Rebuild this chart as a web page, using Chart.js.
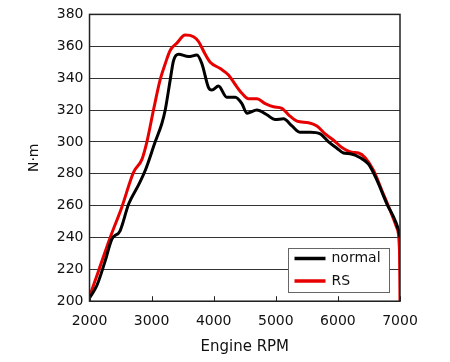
<!DOCTYPE html>
<html>
<head>
<meta charset="utf-8">
<script src="https://cdn.jsdelivr.net/npm/chart.js@4"></script>
<style>
  html, body { margin: 0; padding: 0; background: #fff; }
  #wrap { width: 450px; height: 362px; }
</style>
</head>
<body>
<div id="wrap"><canvas id="torque"></canvas></div>
<script>
// values
const rpmNormal = [2000, 2120, 2250, 2360, 2490, 2630, 2790, 2897, 3058, 3165, 3219, 3300, 3353, 3434, 3594, 3730, 3810, 3917, 3970, 4077, 4210, 4346, 4454, 4534, 4695, 4856, 4990, 5124, 5260, 5393, 5554, 5715, 5850, 5984, 6090, 6198, 6360, 6493, 6628, 6790, 6923, 6992, 7000];
const torqueNormal = [202, 210, 225, 239, 244, 261, 273, 282, 300, 311.5, 320, 339, 351, 355, 353.5, 354.5, 349, 334, 332.5, 335, 328, 328, 324, 318, 320, 317, 314, 314.5, 310, 306, 306, 305, 300, 296, 293, 292.5, 290, 286, 276, 261, 250.5, 242, 240];
const rpmRS = [2000, 2145, 2333, 2520, 2710, 2844, 2924, 3030, 3138, 3219, 3300, 3407, 3540, 3675, 3755, 3863, 3944, 4105, 4238, 4346, 4454, 4560, 4695, 4830, 4963, 5098, 5205, 5340, 5527, 5662, 5795, 5930, 6064, 6225, 6332, 6440, 6574, 6708, 6842, 6950, 6992, 7000];
const torqueRS = [203, 219, 240, 259, 281, 289, 300, 320, 339, 349, 357.5, 362, 367, 366, 363, 355, 350, 346, 342, 336, 330.5, 327, 327, 324, 322, 321, 317, 313, 312, 310, 305, 301, 296.5, 293.5, 293, 290, 282, 269.5, 257, 246, 231.5, 200];
const seriesNames = ["normal", "RS"];
const xTicks = [2000, 3000, 4000, 5000, 6000, 7000];

const FONT = "'DejaVu Sans', Verdana, sans-serif";

const toPoints = (xs, ys) => xs.map((x, i) => ({ x: x, y: ys[i] }));

// frame, inner x ticks and the boxed legend inside the plot
const framePlugin = {
  id: "frame",
  afterDatasetsDraw(chart) {
    const { ctx, chartArea: a } = chart;
    const xs = chart.scales.x;
    ctx.save();
    ctx.strokeStyle = "#222";
    ctx.lineWidth = 1;
    ctx.beginPath();
    xTicks.forEach(v => {
      const px = Math.round(xs.getPixelForValue(v)) + 0.5;
      ctx.moveTo(px, a.bottom);
      ctx.lineTo(px, a.bottom - 5);
    });
    ctx.stroke();
    ctx.lineWidth = 1.5;
    ctx.strokeRect(a.left, a.top, a.right - a.left, a.bottom - a.top);

    // legend
    const bx = 288.5, by = 248.5, bw = 101, bh = 44;
    ctx.fillStyle = "#fff";
    ctx.fillRect(bx, by, bw, bh);
    ctx.strokeStyle = "#666";
    ctx.lineWidth = 1;
    ctx.strokeRect(bx, by, bw, bh);
    ctx.font = "14px " + FONT;
    ctx.textBaseline = "middle";
    chart.data.datasets.forEach((ds, i) => {
      const ly = by + 10 + i * 22.5;
      ctx.strokeStyle = ds.borderColor;
      ctx.lineWidth = 3.5;
      ctx.beginPath();
      ctx.moveTo(bx + 6, ly);
      ctx.lineTo(bx + 37, ly);
      ctx.stroke();
      ctx.fillStyle = "#111";
      ctx.fillText(ds.label, bx + 43, ly);
    });
    ctx.restore();
  }
};

new Chart(document.getElementById("torque"), {
  type: "line",
  data: {
    datasets: [
      {
        label: seriesNames[0],
        data: toPoints(rpmNormal, torqueNormal),
        borderColor: "#000",
        borderWidth: 3,
        pointRadius: 0,
        tension: 0.4,
        cubicInterpolationMode: "monotone"
      },
      {
        label: seriesNames[1],
        data: toPoints(rpmRS, torqueRS),
        borderColor: "#e60000",
        borderWidth: 3,
        pointRadius: 0,
        tension: 0.4,
        cubicInterpolationMode: "monotone"
      }
    ]
  },
  options: {
    responsive: true,
    maintainAspectRatio: false,
    animation: false,
    events: [],
    layout: { padding: { top: 8, right: 50, left: 22, bottom: 2 } },
    plugins: {
      legend: { display: false },
      tooltip: { enabled: false }
    },
    scales: {
      x: {
        type: "linear",
        min: 2000,
        max: 7000,
        afterBuildTicks: (s) => { s.ticks = xTicks.map(v => ({ value: v })); },
        grid: { display: false },
        border: { display: false },
        ticks: { color: "#111", font: { family: FONT, size: 14 }, padding: 4, maxRotation: 0, callback: (v) => String(v) },
        title: { display: true, text: "Engine RPM", color: "#111", font: { family: FONT, size: 15 }, padding: { top: 4 } }
      },
      y: {
        min: 200,
        max: 380,
        ticks: { stepSize: 20, color: "#111", font: { family: FONT, size: 14 }, padding: 6 },
        grid: { color: "#333", lineWidth: 1, drawTicks: false },
        border: { display: false },
        title: { display: true, text: "N·m", color: "#111", font: { family: FONT, size: 14 }, padding: { bottom: 8 } }
      }
    }
  },
  plugins: [framePlugin]
});
</script>
</body>
</html>
